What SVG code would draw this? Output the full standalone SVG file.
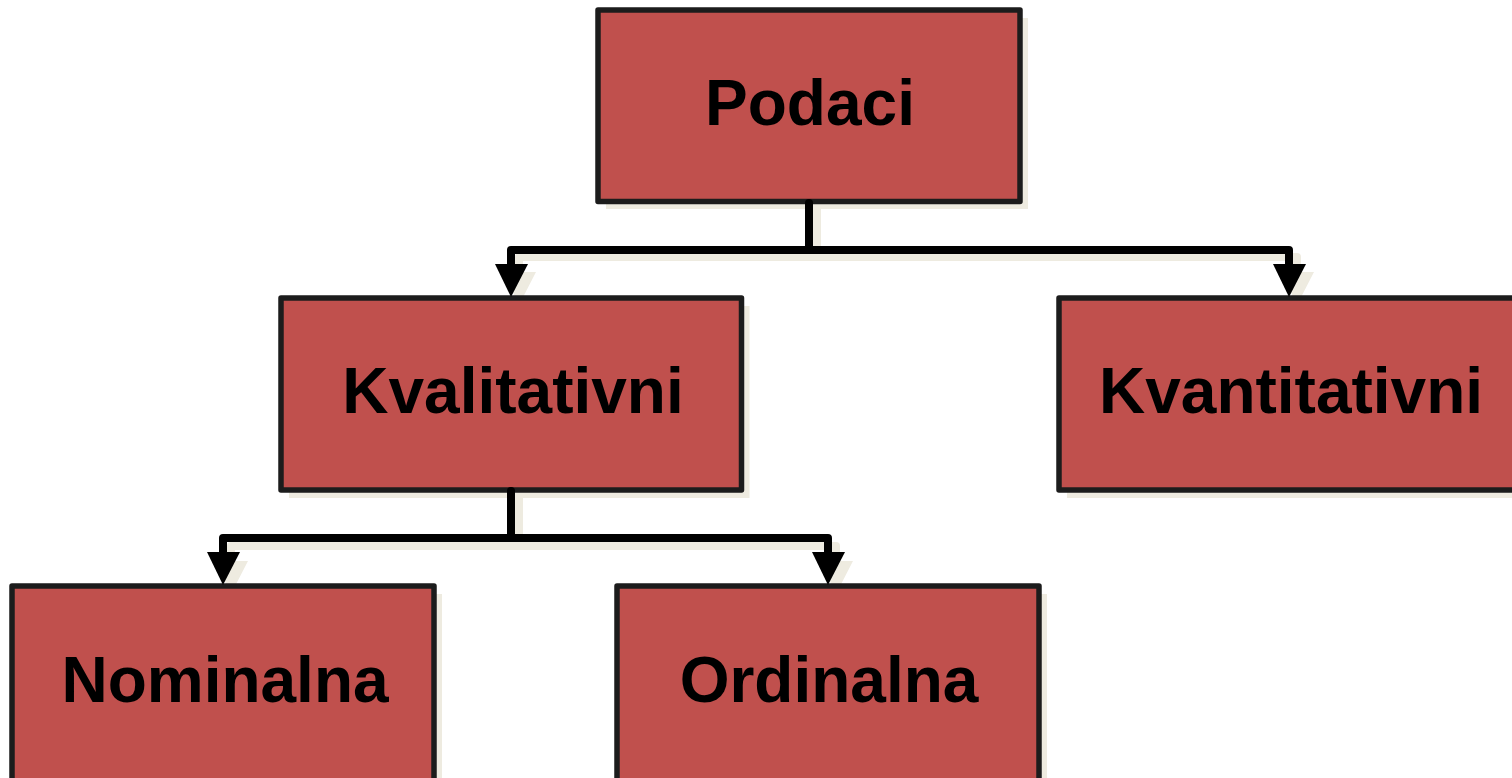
<svg xmlns="http://www.w3.org/2000/svg" width="1512" height="778" viewBox="0 0 1512 778">
<style>
.sh{fill:#eeebe0;stroke:none}
.shl{fill:none;stroke:#eeebe0;stroke-width:8;stroke-linejoin:round}
.box{fill:#c0504d;stroke:#1c1c1c;stroke-width:5.5;stroke-linejoin:round}
.lbl{font-family:"Liberation Sans",Arial,sans-serif;font-weight:bold;font-size:64px;fill:#000;text-anchor:middle}
.ln{fill:none;stroke:#000;stroke-width:8;stroke-linejoin:round;stroke-linecap:round}
.ah{fill:#000}
</style>
<rect width="1512" height="778" fill="#fff"/>
<g id="shadows">
<rect class="sh" x="606" y="18" width="422" height="191"/>
<rect class="sh" x="289" y="306" width="460.5" height="192"/>
<rect class="sh" x="1067" y="306" width="462" height="192"/>
<rect class="sh" x="20" y="594" width="422" height="200"/>
<rect class="sh" x="625" y="594" width="422" height="200"/>
<path class="shl" d="M817 209 V257 M519 272 V257 H1297 V272"/>
<path class="shl" d="M519 498 V546 M231 561 V546 H836 V561"/>
<path class="sh" d="M503 272 H536 L519 305 Z M1281 272 H1314 L1297 305 Z M215 561 H248 L231 594 Z M820 561 H853 L836 594 Z"/>
</g>
<g id="node-podaci">
<rect class="box" x="598" y="10" width="422" height="191.5"/>
<text class="lbl" x="810" y="125">Podaci</text>
</g>
<g id="node-kvalitativni">
<rect class="box" x="281" y="298" width="460.5" height="192"/>
<text class="lbl" x="513" y="413">Kvalitativni</text>
</g>
<g id="node-kvantitativni">
<rect class="box" x="1059" y="298" width="462" height="192"/>
<text class="lbl" x="1291" y="413">Kvantitativni</text>
</g>
<g id="node-nominalna">
<rect class="box" x="12" y="586" width="422" height="200"/>
<text class="lbl" x="225" y="702">Nominalna</text>
</g>
<g id="node-ordinalna">
<rect class="box" x="617" y="586" width="422" height="200"/>
<text class="lbl" x="829" y="702">Ordinalna</text>
</g>
<g id="connectors">
<path class="ln" d="M809 203 V250"/>
<path class="ln" d="M511 265 V250 H1289 V265"/>
<path class="ah" d="M495 264 H528 L511 297 Z"/>
<path class="ah" d="M1273 264 H1306 L1289 297 Z"/>
<path class="ln" d="M511 491 V538"/>
<path class="ln" d="M223 553 V538 H828 V553"/>
<path class="ah" d="M207 552 H240 L223 585 Z"/>
<path class="ah" d="M812 552 H845 L828 585 Z"/>
</g>
</svg>
